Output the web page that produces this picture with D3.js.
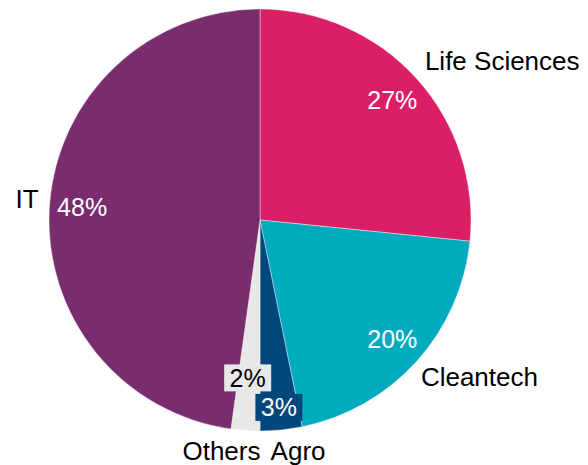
<!DOCTYPE html>
<html>
<head>
<meta charset="utf-8">
<script src="https://cdn.jsdelivr.net/npm/d3@7"></script>
<style>
  body { margin: 0; background: #fff; }
  svg { display: block; }
  text { font-family: "Liberation Sans", Arial, sans-serif; }
</style>
</head>
<body>
<div id="chart"></div>
<script>
// data, clockwise from 12 o'clock (labels show rounded %)
const categories = ["Life Sciences", "Cleantech", "Agro", "Others", "IT"]
const shares = [26.6, 20.2, 3.2, 2.2, 47.8]
const colors = ["#da1f66", "#00abbf", "#00477b", "#e8e8e8", "#7a2d6e"]
const labelColors = ["#fff", "#fff", "#fff", "#000", "#fff"]

const width = 588
const height = 465
const cx = 260
const cy = 220
const radius = 211

// small slices get a box behind the value and a nudge so they don't collide
const boxed = { "Agro": true, "Others": true }
const valueNudge = { "Agro": [1, 10], "Others": [0, -20] }
const nameNudge = { "Others": [16, -3], "Agro": [-12, -3], "IT": [3, -4], "Cleantech": [-6, 0], "Life Sciences": [-2, 0] }

const svg = d3.select("#chart").append("svg")
    .attr("width", width)
    .attr("height", height)

const g = svg.append("g").attr("transform", `translate(${cx},${cy})`)

const pie = d3.pie().sort(null).value(d => d.v)
const data = pie(categories.map((c, i) => ({ name: c, v: shares[i], i: i })))

const arc = d3.arc().innerRadius(0).outerRadius(radius)
const valueArc = d3.arc().innerRadius(radius * 0.845).outerRadius(radius * 0.845)

g.selectAll("path.slice")
    .data(data)
    .join("path")
    .attr("class", "slice")
    .attr("d", arc)
    .attr("fill", d => colors[d.data.i])
    .attr("stroke", "#fff")
    .attr("stroke-width", 0.4)

// value labels
const vals = g.selectAll("g.val")
    .data(data)
    .join("g")
    .attr("class", "val")
    .attr("transform", d => {
        const [x, y] = valueArc.centroid(d)
        const n = valueNudge[d.data.name] || [0, 0]
        return `translate(${x + n[0]},${y + n[1]})`
    })

vals.filter(d => boxed[d.data.name])
    .append("rect")
    .attr("x", -23.5)
    .attr("y", -13.5)
    .attr("width", 47)
    .attr("height", 27)
    .attr("fill", d => colors[d.data.i])

vals.append("text")
    .attr("text-anchor", "middle")
    .attr("dy", "0.35em")
    .attr("font-size", 25)
    .attr("fill", d => labelColors[d.data.i])
    .text(d => Math.round(d.data.v) + "%")

// category labels outside the pie
g.selectAll("text.name")
    .data(data)
    .join("text")
    .attr("class", "name")
    .attr("font-size", 26)
    .attr("fill", "#000")
    .attr("text-anchor", d => {
        const a = (d.startAngle + d.endAngle) / 2
        return Math.sin(a) >= 0 ? "start" : "end"
    })
    .attr("x", d => {
        const a = (d.startAngle + d.endAngle) / 2
        const n = nameNudge[d.data.name] || [0, 0]
        return (radius + 14) * Math.sin(a) + n[0]
    })
    .attr("y", d => {
        const a = (d.startAngle + d.endAngle) / 2
        const n = nameNudge[d.data.name] || [0, 0]
        return -(radius + 14) * Math.cos(a) + 8 - 11 * Math.cos(a) + n[1]
    })
    .text(d => d.data.name)
</script>
</body>
</html>
